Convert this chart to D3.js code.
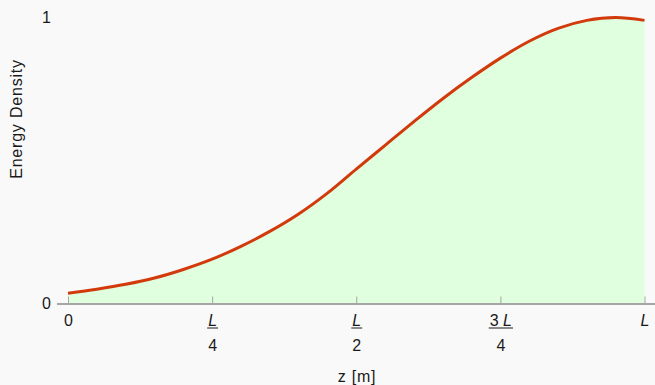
<!DOCTYPE html>
<html>
<head>
<meta charset="utf-8">
<script src="https://cdn.jsdelivr.net/npm/d3@7"></script>
<style>
  html, body { margin: 0; padding: 0; background: #f9f9f9; }
  svg { display: block; }
  text { font-family: "Liberation Sans", Arial, sans-serif; fill: #1a1a1a; }
</style>
</head>
<body>
<svg id="chart" width="655" height="385"></svg>
<script>
// Position along the cavity, as a fraction of L
const zFraction = [0, 0.05, 0.10, 0.15, 0.20, 0.25, 0.30, 0.35, 0.40, 0.45, 0.50,
                   0.55, 0.60, 0.65, 0.70, 0.75, 0.80, 0.85, 0.90, 0.95, 1.00];
// Normalised energy density at each position
const density = [0.036, 0.050, 0.067, 0.089, 0.119, 0.155, 0.200, 0.252, 0.313, 0.386, 0.470,
                 0.553, 0.636, 0.716, 0.790, 0.858, 0.917, 0.962, 0.990, 1.000, 0.990];

// Tick positions and their fraction labels
const xTicks = [0, 0.25, 0.5, 0.75, 1];
const tickNumerators = ["0", "L", "L", "3 L", "L"];
const tickDenominators = ["", "4", "2", "4", ""];
const yTicks = [0, 1];

const FONT = 16;
const TITLE_FONT = 16;
const svg = d3.select("#chart");
const x = d3.scaleLinear().domain([0, 1]).range([68, 644.5]);
const y = d3.scaleLinear().domain([0, 1]).range([303.5, 17.5]);

const points = zFraction.map((z, i) => ({ z, v: density[i] }));
const curve = d3.curveCatmullRom.alpha(0.5);

// Filled region between the curve and the axis
svg.append("path")
  .datum(points)
  .attr("fill", "#dfffdf")
  .attr("d", d3.area()
    .x(d => x(d.z))
    .y0(y(0))
    .y1(d => y(d.v))
    .curve(curve));

// Horizontal axis, with ticks pointing up into the plot
const xAxis = svg.append("g")
  .attr("transform", `translate(0,${y(0)})`)
  .call(d3.axisBottom(x).tickValues(xTicks).tickSize(-7).tickFormat(""));
xAxis.select(".domain").remove();
xAxis.selectAll(".tick line").attr("stroke", "#a6a6a6").attr("stroke-width", 1);
xAxis.insert("line", ":first-child")
  .attr("x1", 57).attr("x2", 655).attr("y1", 0.5).attr("y2", 0.5)
  .attr("stroke", "#a6a6a6").attr("stroke-width", 2);

// Fraction labels under each tick
xAxis.selectAll(".tick").each(function (d, i) {
  const g = d3.select(this);
  const num = tickNumerators[i];
  const den = tickDenominators[i];
  const t = g.append("text")
    .attr("text-anchor", "middle")
    .attr("font-size", FONT)
    .attr("y", 22);
  if (num === "0") {
    t.text("0");
  } else {
    const parts = num.split(" ");
    if (parts.length === 2) {
      t.append("tspan").text(parts[0] + " ");
      t.append("tspan").attr("font-style", "italic").text(parts[1]);
    } else {
      t.append("tspan").attr("font-style", "italic").text(parts[0]);
    }
  }
  if (den) {
    const w = t.node().getComputedTextLength();
    g.append("line")
      .attr("x1", -w / 2 - 1).attr("x2", w / 2 + 1)
      .attr("y1", 24.5).attr("y2", 24.5)
      .attr("stroke", "#1a1a1a").attr("stroke-width", 1);
    g.append("text")
      .attr("text-anchor", "middle")
      .attr("font-size", FONT)
      .attr("y", 47)
      .text(den);
  }
});

// Vertical axis: labels only
const yAxis = svg.append("g")
  .attr("transform", "translate(51,0)")
  .call(d3.axisLeft(y).tickValues(yTicks).tickSize(0).tickPadding(0).tickFormat(d3.format("d")));
yAxis.select(".domain").remove();
yAxis.selectAll(".tick text")
  .attr("font-size", FONT)
  .attr("font-family", "'Liberation Sans', Arial, sans-serif")
  .attr("fill", "#1a1a1a");

// Density curve
svg.append("path")
  .datum(points)
  .attr("fill", "none")
  .attr("stroke", "#d23a0c")
  .attr("stroke-width", 3)
  .attr("d", d3.line()
    .x(d => x(d.z))
    .y(d => y(d.v))
    .curve(curve));

// Axis titles
svg.append("text")
  .attr("x", 357).attr("y", 382)
  .attr("text-anchor", "middle")
  .attr("font-size", TITLE_FONT)
  .attr("letter-spacing", 0.8)
  .text("z [m]");

svg.append("text")
  .attr("transform", "translate(22,119) rotate(-90)")
  .attr("text-anchor", "middle")
  .attr("font-size", TITLE_FONT)
  .attr("letter-spacing", 0.8)
  .text("Energy Density");
</script>
</body>
</html>
